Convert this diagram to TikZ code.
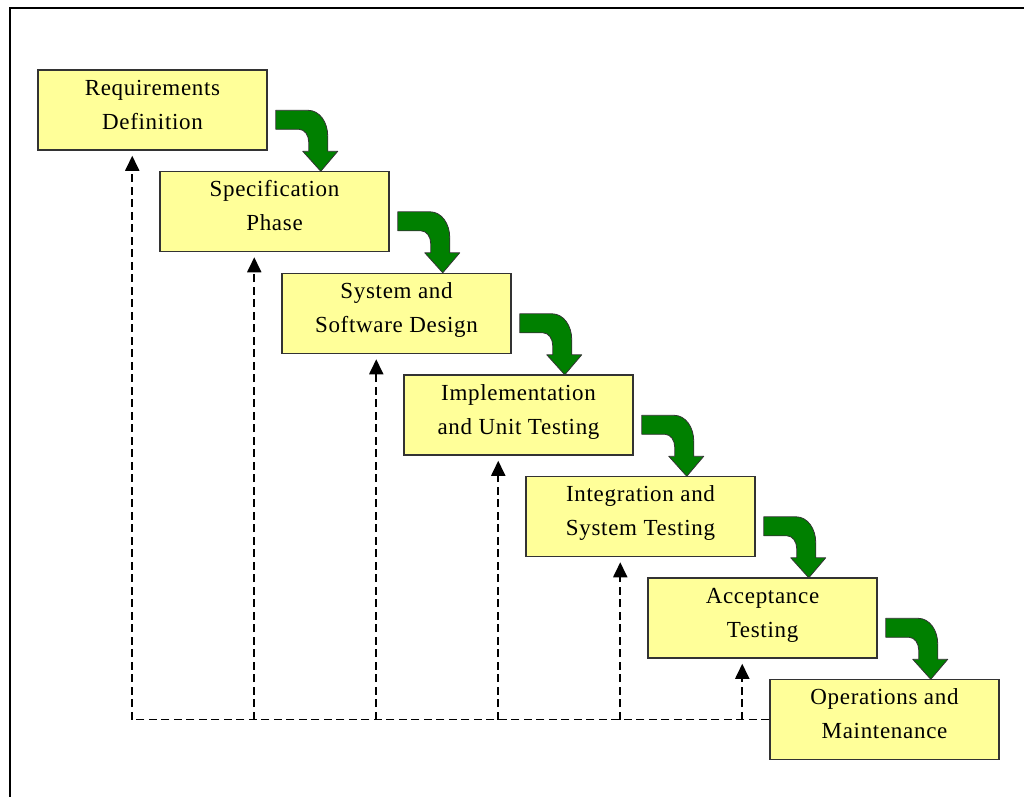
\documentclass[tikz,border=0pt]{standalone}
\usepackage{fontspec}
\setmainfont[LetterSpace=3]{Liberation Serif}
\usetikzlibrary{arrows.meta}

\definecolor{boxfill}{HTML}{FFFF99}
\definecolor{boxline}{HTML}{333333}
\definecolor{flowgreen}{HTML}{008000}

% two-line box label with fixed outer struts so every box centres alike
\newcommand\boxlabel[2]{\rule{0pt}{21pt}#1\\#2\rule[-16.4pt]{0pt}{16.4pt}}

\begin{document}
\begin{tikzpicture}[x=1pt,y=-1pt,
  stagebox/.style={draw=boxline, fill=boxfill, line width=1.5pt,
    minimum width=229pt, minimum height=80pt, inner sep=0pt,
    align=center, font=\fontsize{23}{34}\selectfont},
  feedback/.style={draw=black, line width=1.8pt, dash pattern=on 8pt off 4.5pt},
  feedtip/.style={-{Triangle[width=14pt,length=15pt]}},
  flowarrow/.style={fill=flowgreen, draw=black!80, line width=0.8pt, line join=round}]

\useasboundingbox (0,0) rectangle (1024,796);

% outer frame (top and left edges visible)
\draw[line width=2.5pt] (10,805) -- (10,8) -- (1035,8);

% stages of the waterfall
\node[stagebox] (b1) at (152.5,110)   {\boxlabel{Requirements}{Definition}};
\node[stagebox] (b2) at (274.5,211.5) {\boxlabel{Specification}{Phase}};
\node[stagebox] (b3) at (396.5,313.5) {\boxlabel{System and}{Software Design}};
\node[stagebox] (b4) at (518.5,415)   {\boxlabel{Implementation}{and Unit Testing}};
\node[stagebox] (b5) at (640.5,516.5) {\boxlabel{Integration and}{System Testing}};
\node[stagebox] (b6) at (762.5,618)   {\boxlabel{Acceptance}{Testing}};
\node[stagebox] (b7) at (884.5,719.5) {\boxlabel{Operations and}{Maintenance}};

% curved green arrows from each stage down to the next
\foreach \s in {1,...,6}{
  \filldraw[flowarrow, shift={(b\s.north east)}]
    (8,41) -- (40,41)
    .. controls (52,41) and (60,53) .. (60,67)
    -- (60,82) -- (70,82) -- (53,102) -- (35,82) -- (41,82) -- (41,73)
    .. controls (41,66) and (37,60) .. (31,60)
    -- (8,60) -- cycle;
}

% feedback paths back to earlier stages
\foreach \s in {1,...,6}{
  \coordinate (f\s) at ([xshift=95pt]b\s.south west |- b7.west);
}
\draw[feedback] (b7.west) -- (f1);
\foreach \s in {1,...,6}{
  \draw[feedback, feedtip] (f\s) -- ([xshift=95pt,yshift=-5pt]b\s.south west);
}

\end{tikzpicture}
\end{document}
